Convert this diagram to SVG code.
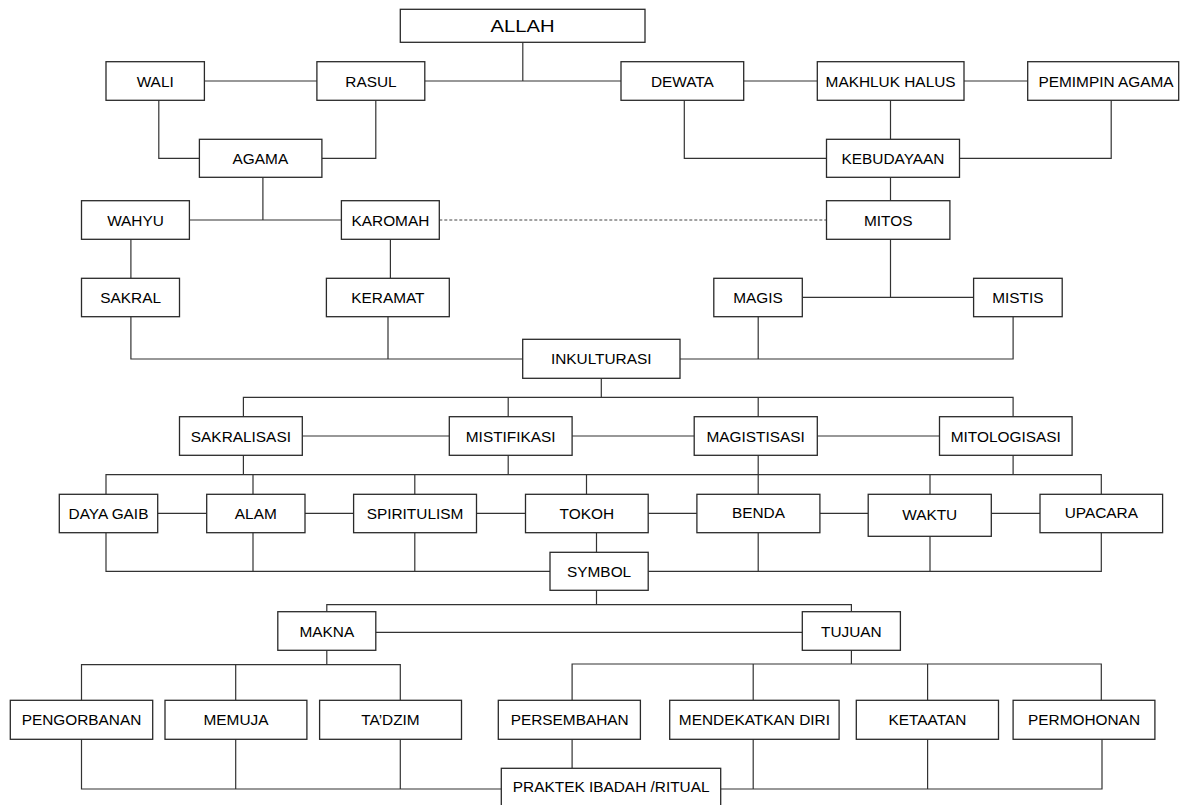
<svg xmlns="http://www.w3.org/2000/svg" width="1181" height="805" viewBox="0 0 1181 805">
<style>
.box{fill:#fff;stroke:#2a2a2a;stroke-width:1.3}
.t{font-family:"Liberation Sans",Arial,sans-serif;font-size:15.4px;fill:#000;text-anchor:middle}
.big{font-size:17px}
.c{fill:none;stroke:#333;stroke-width:1.2}
.d{fill:none;stroke:#444;stroke-width:1;stroke-dasharray:3 2}
</style>
<rect width="1181" height="805" fill="#fff"/>
<g id="connectors">
<path class="c" d="M522.8 42.3V81M204.4 81H316.9M424.8 81H621M743.7 81H817.3M964 81H1027.7"/>
<path class="c" d="M158.8 100.3V158.3H199.4M375.8 100.3V158.3H321.9M684.3 100.3V158.3H826.5M890.5 100.3V139.3M1111.2 100.3V158.3H959.5"/>
<path class="c" d="M262.9 177.3V220M189.4 220H341.4M890.5 177.3V200.7M130.9 239.3V278.3M390.4 239.3V278.3M890.5 239.3V297.3M802.3 297.3H973.6"/>
<path class="d" d="M439.3 220H826.5"/>
<path class="c" d="M130.9 316.7V359H522.7M388 316.7V359M758.2 316.7V359M1013.1 316.7V359H680"/>
<path class="c" d="M601.3 378.3V397.3M243.4 416.7V397.3H1013.1V416.7M508.2 397.3V416.7M758.2 397.3V416.7"/>
<path class="c" d="M302.3 436H449.3M572.1 436H694.2M817.3 436H939.5"/>
<path class="c" d="M243.4 455.3V474.7M508.2 455.3V474.7M758.2 455.3V494.3M1013.1 455.3V474.7M106 494.3V474.7H1101.3V494.3M253 474.7V494.3M414.8 474.7V494.3M586.5 474.7V494.3M930 474.7V494.3"/>
<path class="c" d="M157.7 513.3H206.7M305 513.3H353.6M476.5 513.3H525.5M648.2 513.3H696.9M819.9 513.3H868.2M991.3 513.3H1040"/>
<path class="c" d="M106 532.7V571.3H550M253 532.7V571.3M414.8 532.7V571.3M648.2 571.3H1101.3V532.7M758.2 532.7V571.3M930 536.3V571.3M596.5 532.7V552.3"/>
<path class="c" d="M596.5 590.3V604.7M326.8 611.7V604.7H851.4V611.7M375.8 632.3H802.3"/>
<path class="c" d="M326.8 650.3V664.7M81.5 700.3V664.7H400.3V700.3M235.7 664.7V700.3M851.4 650.3V664M572.1 700.3V664H1101.3V700.3M753.2 664V700.3M927.6 664V700.3"/>
<path class="c" d="M81.5 739.3V789H501.3M235.7 739.3V789M400.3 739.3V789M572.1 739.3V768.3M720.7 789H1102V739.3M753.2 739.3V789M927.6 739.3V789"/>
</g>
<g id="allah"><rect class="box" x="400.3" y="9.3" width="244.7" height="33"/><text class="t big" x="522.5" y="31.5" textLength="64" lengthAdjust="spacingAndGlyphs">ALLAH</text></g>
<g id="wali"><rect class="box" x="106" y="61.7" width="98.4" height="38.6"/><text class="t" x="155.2" y="86.5">WALI</text></g>
<g id="rasul"><rect class="box" x="316.9" y="61.7" width="107.9" height="38.6"/><text class="t" x="371" y="86.5">RASUL</text></g>
<g id="dewata"><rect class="box" x="621" y="61.7" width="122.7" height="38.6"/><text class="t" x="682.4" y="86.5">DEWATA</text></g>
<g id="makhluk-halus"><rect class="box" x="817.3" y="61.7" width="146.7" height="38.6"/><text class="t" x="890.6" y="86.5">MAKHLUK HALUS</text></g>
<g id="pemimpin-agama"><rect class="box" x="1027.7" y="61.7" width="151" height="38.6"/><text class="t" x="1106" y="86.5">PEMIMPIN AGAMA</text></g>
<g id="agama"><rect class="box" x="199.4" y="139.3" width="122.5" height="38"/><text class="t" x="260.4" y="163.8">AGAMA</text></g>
<g id="kebudayaan"><rect class="box" x="826.5" y="139.3" width="133" height="38"/><text class="t" x="893" y="163.8">KEBUDAYAAN</text></g>
<g id="wahyu"><rect class="box" x="81.5" y="200.7" width="107.9" height="38.6"/><text class="t" x="135.5" y="225.5">WAHYU</text></g>
<g id="karomah"><rect class="box" x="341.4" y="200.7" width="97.9" height="38.6"/><text class="t" x="390.4" y="225.5">KAROMAH</text></g>
<g id="mitos"><rect class="box" x="826.5" y="200.7" width="123.4" height="38.6"/><text class="t" x="888.2" y="225.5">MITOS</text></g>
<g id="sakral"><rect class="box" x="81.5" y="278.3" width="98" height="38.4"/><text class="t" x="130.7" y="303">SAKRAL</text></g>
<g id="keramat"><rect class="box" x="326.4" y="278.3" width="122.9" height="38.4"/><text class="t" x="387.9" y="303">KERAMAT</text></g>
<g id="magis"><rect class="box" x="713.8" y="278.3" width="88.5" height="38.4"/><text class="t" x="758" y="303">MAGIS</text></g>
<g id="mistis"><rect class="box" x="973.6" y="278.3" width="88.6" height="38.4"/><text class="t" x="1017.9" y="303">MISTIS</text></g>
<g id="inkulturasi"><rect class="box" x="522.7" y="339.3" width="157.3" height="39"/><text class="t" x="601.2" y="364.3">INKULTURASI</text></g>
<g id="sakralisasi"><rect class="box" x="179.5" y="416.7" width="122.8" height="38.6"/><text class="t" x="240.9" y="441.5">SAKRALISASI</text></g>
<g id="mistifikasi"><rect class="box" x="449.3" y="416.7" width="122.8" height="38.6"/><text class="t" x="510.7" y="441.5">MISTIFIKASI</text></g>
<g id="magistisasi"><rect class="box" x="694.2" y="416.7" width="123.1" height="38.6"/><text class="t" x="755.7" y="441.5">MAGISTISASI</text></g>
<g id="mitologisasi"><rect class="box" x="939.5" y="416.7" width="132.6" height="38.6"/><text class="t" x="1005.8" y="441.5">MITOLOGISASI</text></g>
<g id="daya-gaib"><rect class="box" x="59.3" y="494.3" width="98.4" height="38.4"/><text class="t" x="108.5" y="519">DAYA GAIB</text></g>
<g id="alam"><rect class="box" x="206.7" y="494.3" width="98.3" height="38.4"/><text class="t" x="255.8" y="519">ALAM</text></g>
<g id="spiritulism"><rect class="box" x="353.6" y="494.3" width="122.9" height="38.4"/><text class="t" x="415" y="519">SPIRITULISM</text></g>
<g id="tokoh"><rect class="box" x="525.5" y="494.3" width="122.7" height="38.4"/><text class="t" x="586.8" y="519">TOKOH</text></g>
<g id="benda"><rect class="box" x="696.9" y="494.3" width="123" height="38.4"/><text class="t" x="758.4" y="518.3">BENDA</text></g>
<g id="waktu"><rect class="box" x="868.2" y="494.3" width="123.1" height="42"/><text class="t" x="929.7" y="520.3">WAKTU</text></g>
<g id="upacara"><rect class="box" x="1040" y="494.3" width="122.6" height="38.4"/><text class="t" x="1101.3" y="518.3">UPACARA</text></g>
<g id="symbol"><rect class="box" x="550" y="552.3" width="98.2" height="38"/><text class="t" x="599.1" y="576.8">SYMBOL</text></g>
<g id="makna"><rect class="box" x="277.8" y="611.7" width="98" height="38.6"/><text class="t" x="326.8" y="636.5">MAKNA</text></g>
<g id="tujuan"><rect class="box" x="802.3" y="611.7" width="98.1" height="38.6"/><text class="t" x="851.4" y="636.5">TUJUAN</text></g>
<g id="pengorbanan"><rect class="box" x="10.3" y="700.3" width="142.4" height="39"/><text class="t" x="81.5" y="725.3">PENGORBANAN</text></g>
<g id="memuja"><rect class="box" x="165" y="700.3" width="141.9" height="39"/><text class="t" x="236" y="725.3">MEMUJA</text></g>
<g id="tadzim"><rect class="box" x="319.6" y="700.3" width="141.9" height="39"/><text class="t" x="390.5" y="725.3">TA’DZIM</text></g>
<g id="persembahan"><rect class="box" x="498.3" y="700.3" width="142.1" height="39"/><text class="t" x="569.7" y="725.3">PERSEMBAHAN</text></g>
<g id="mendekatkan-diri"><rect class="box" x="669.7" y="700.3" width="169.4" height="39"/><text class="t" x="754.4" y="725.3">MENDEKATKAN DIRI</text></g>
<g id="ketaatan"><rect class="box" x="856.3" y="700.3" width="142.2" height="39"/><text class="t" x="927.4" y="725.3">KETAATAN</text></g>
<g id="permohonan"><rect class="box" x="1013.1" y="700.3" width="141.8" height="39"/><text class="t" x="1084" y="725.3">PERMOHONAN</text></g>
<g id="praktek-ibadah-ritual"><rect class="box" x="501.3" y="768.3" width="219.4" height="45"/><text class="t" x="611.2" y="791.9">PRAKTEK IBADAH /RITUAL</text></g>
</svg>
